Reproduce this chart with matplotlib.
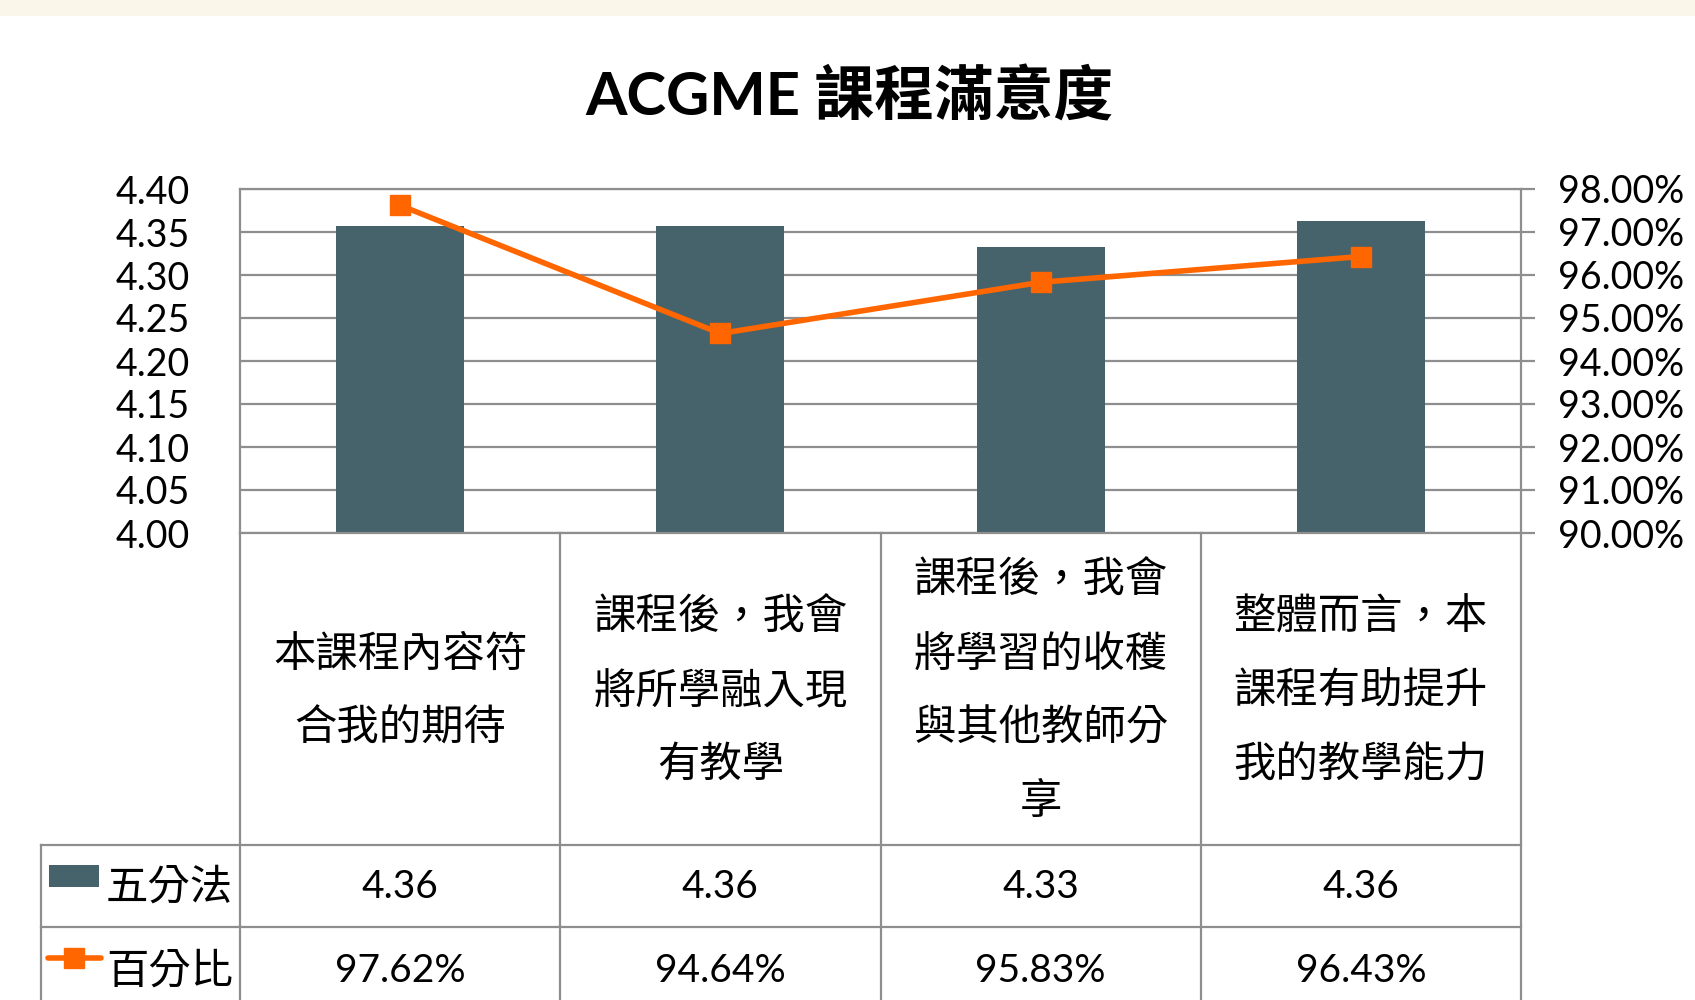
import matplotlib.pyplot as plt
from matplotlib.lines import Line2D
from matplotlib.patches import Rectangle
import matplotlib.transforms as mtransforms

plt.rcParams['font.family'] = ['Lato', 'Noto Sans CJK TC', 'DejaVu Sans']

title = 'ACGME 課程滿意度'
categories = ['本課程內容符\n合我的期待',
              '課程後，我會\n將所學融入現\n有教學',
              '課程後，我會\n將學習的收穫\n與其他教師分\n享',
              '整體而言，本\n課程有助提升\n我的教學能力']
score_name = '五分法'
pct_name = '百分比'
scores = [4.357, 4.357, 4.333, 4.363]
score_labels = ['4.36', '4.36', '4.33', '4.36']
pcts = [97.62, 94.64, 95.83, 96.43]
left_ticks = [4.00, 4.05, 4.10, 4.15, 4.20, 4.25, 4.30, 4.35, 4.40]
right_ticks = [90, 91, 92, 93, 94, 95, 96, 97, 98]

bar_color = '#46626A'
line_color = '#FF6600'
grid_color = '#8E8E8E'

W, H = 1695, 1000
fig = plt.figure(figsize=(W / 100, H / 100), dpi=100)

def fx(px):
    return px / W

def fy(py):
    return 1 - py / H

# top cream strip
fig.add_artist(Rectangle((0, fy(16)), 1, 16 / H, transform=fig.transFigure,
                         color='#FBF6EA', lw=0))

fig.text(fx(849), fy(97), title, ha='center', va='center', fontsize=43,
         fontweight='bold')

ax = fig.add_axes([fx(240), fy(533), fx(1521 - 240), (533 - 189) / H])
x = list(range(len(categories)))
ax.bar(x, scores, width=0.4, color=bar_color, zorder=2)
ax.set_xlim(-0.5, len(categories) - 0.5)
ax.set_ylim(4.0, 4.4)
ax.set_yticks(left_ticks)
ax.set_yticklabels([f'{t:.2f}' for t in left_ticks], fontsize=27)
ax.tick_params(axis='y', length=0, pad=36)
ax.set_xticks([])
ax.grid(axis='y', color=grid_color, lw=1.6, zorder=0)
for s in ax.spines.values():
    s.set_color(grid_color)
    s.set_linewidth(1.6)

ax2 = ax.twinx()
ax2.plot(x, pcts, color=line_color, lw=4, marker='s', markersize=14, zorder=3)
ax2.set_ylim(90, 98)
ax2.set_yticks(right_ticks)
ax2.set_yticklabels([f'{t:.2f}%' for t in right_ticks], fontsize=27)
ax2.tick_params(axis='y', length=10, width=1.6, color=grid_color, pad=17)
for s in ax2.spines.values():
    s.set_visible(False)

# data table below the chart
blend = mtransforms.blended_transform_factory(ax.transData, fig.transFigure)
row_top, row_cat, row_s, row_p = 533, 845, 927, 1010
for b in [i - 0.5 for i in range(len(categories) + 1)]:
    fig.add_artist(Line2D([b, b], [fy(row_top), fy(row_p)], transform=blend,
                          color=grid_color, lw=1.6))
for yy in [row_cat, row_s]:
    fig.add_artist(Line2D([fx(41), fx(1521)], [fy(yy), fy(yy)],
                          transform=fig.transFigure, color=grid_color, lw=1.6))
fig.add_artist(Line2D([fx(41), fx(41)], [fy(row_cat), fy(row_p)],
                      transform=fig.transFigure, color=grid_color, lw=1.6))

for i, cat in enumerate(categories):
    fig.text(i, fy((row_top + row_cat) / 2 + 2), cat, transform=blend,
             ha='center', va='center', fontsize=30.5, linespacing=2.07)
    fig.text(i, fy(887), score_labels[i], transform=blend, ha='center',
             va='center', fontsize=28)
    fig.text(i, fy(971), f'{pcts[i]:.2f}%', transform=blend, ha='center',
             va='center', fontsize=28)

# legend keys in the table
fig.add_artist(Rectangle((fx(49), fy(887)), fx(50), 22 / H,
                         transform=fig.transFigure, color=bar_color, lw=0))
fig.add_artist(Line2D([fx(48), fx(101)], [fy(958), fy(958)],
                      transform=fig.transFigure, color=line_color, lw=4,
                      solid_capstyle='round'))
fig.add_artist(Line2D([fx(74)], [fy(958)], transform=fig.transFigure,
                      color=line_color, marker='s', markersize=14, lw=0))
fig.text(fx(106), fy(887), score_name, ha='left', va='center', fontsize=30.5)
fig.text(fx(106), fy(971), pct_name, ha='left', va='center', fontsize=30.5)

fig.savefig('out.png', dpi=100)
